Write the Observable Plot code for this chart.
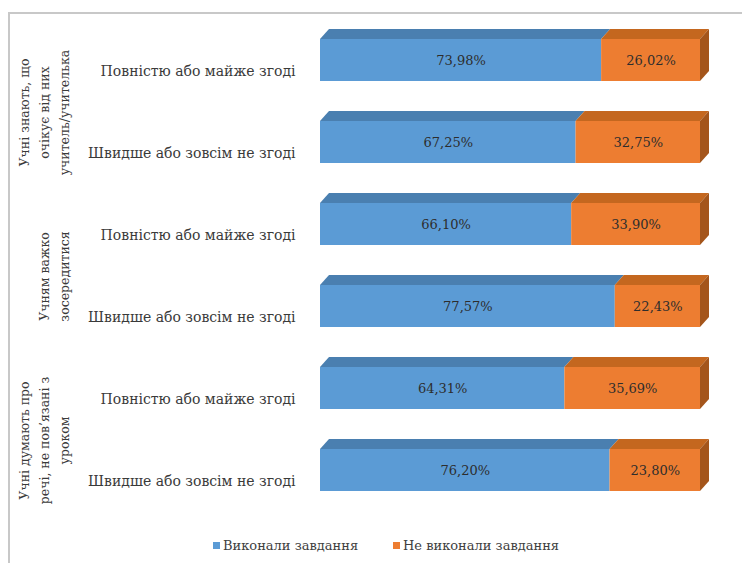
<!DOCTYPE html>
<html>
<head>
<meta charset="utf-8">
<script src="https://cdn.jsdelivr.net/npm/d3@7"></script>
<script src="https://cdn.jsdelivr.net/npm/@observablehq/plot@0.6"></script>
<style>
  body { margin: 0; background: #fff; }
  #wrap { position: relative; width: 742px; height: 563px; overflow: hidden; font-family: "DejaVu Serif", serif; }
  #frame { position: absolute; left: 8px; top: 12px; width: 800px; height: 600px; border-left: 2px solid #c8c8c8; border-top: 2px solid #c8c8c8; }
  #chart { position: absolute; left: 0; top: 0; }
  #legend { position: absolute; left: 0; top: 533px; width: 742px; height: 26px; font-size: 13px; color: #404040; }
  .item { position: absolute; top: 5px; display: flex; align-items: center; }
  .sw { width: 7px; height: 7px; margin-right: 3px; }
</style>
</head>
<body>
<div id="wrap">
  <div id="frame"></div>
  <div id="chart"></div>
  <div id="legend"></div>
</div>
<script>
// ---- data ----
const groups = [
  "Учні знають, що\nочікує від них\nучитель/учителька",
  "Учням важко\nзосередитися",
  "Учні думають про\nречі, не пов’язані з\nуроком"
];
const answers = ["Повністю або майже згоді", "Швидше або зовсім не згоді"];
const series = ["Виконали завдання", "Не виконали завдання"];
const done    = [73.98, 67.25, 66.10, 77.57, 64.31, 76.20];
const notDone = [26.02, 32.75, 33.90, 22.43, 35.69, 23.80];

const frontColors = ["#5b9bd5", "#ed7d31"];
const topColors   = ["#4a7fb0", "#c4671f"];
const sideColor   = "#a4551b";

// ---- derived table ----
const rows = done.map((v, i) => ({row: i, group: groups[Math.floor(i / 2)], answer: answers[i % 2]}));
const table = [];
rows.forEach((r, i) => {
  table.push({...r, series: series[0], value: done[i], x1: 0, x2: done[i]});
  table.push({...r, series: series[1], value: notDone[i], x1: done[i], x2: done[i] + notDone[i]});
});
const groupRows = groups.map((g, k) => ({row: 2 * k, label: g}));
const fmt = v => v.toFixed(2).replace(".", ",") + "%";
const ff = "DejaVu Serif";

const marks = [];
series.forEach((s, k) => {
  const data = table.filter(d => d.series === s);
  marks.push(Plot.rectX(data, {x1: "x1", x2: "x2", y: "row", fill: topColors[k], insetBottom: 42, ariaDescription: "top"}));
});
marks.push(Plot.rectX(table.filter(d => d.series === series[1]), {x1: "x2", x2: "x2", y: "row", fill: sideColor, insetTop: 10, insetRight: -9, ariaDescription: "side"}));
series.forEach((s, k) => {
  const data = table.filter(d => d.series === s);
  marks.push(Plot.rectX(data, {x1: "x1", x2: "x2", y: "row", fill: frontColors[k], insetTop: 10}));
});
marks.push(Plot.text(table, {x: d => (d.x1 + d.x2) / 2, y: "row", text: d => fmt(d.value), dy: 5, fill: "#2d2d2d", fontSize: 13, fontFamily: ff}));
marks.push(Plot.text(rows, {y: "row", text: "answer", frameAnchor: "left", textAnchor: "end", dx: -25, dy: 16, fill: "#3a3a3a", fontSize: 14, fontFamily: ff}));
marks.push(Plot.text(groupRows, {y: "row", text: "label", frameAnchor: "left", textAnchor: "middle", dx: -252, dy: 57, rotate: -90, lineAnchor: "bottom", lineHeight: 1.6, fill: "#3a3a3a", fontSize: 12.5, fontFamily: ff}));

const chart = Plot.plot({
  width: 742,
  height: 533,
  marginLeft: 320,
  marginRight: 42,
  marginTop: 0,
  marginBottom: 0,
  style: {background: "transparent", overflow: "visible", fontFamily: ff},
  x: {domain: [0, 100], axis: null},
  y: {domain: rows.map(r => r.row), range: [27, 492], paddingInner: 0.3705, paddingOuter: 0, axis: null},
  marks
});

// turn flat rects into the 3D faces
d3.select(chart).selectAll('g[aria-description="top"] rect').each(function() {
  const r = d3.select(this);
  const yb = +r.attr("y") + +r.attr("height");
  r.attr("transform", `translate(0,${yb}) skewX(-42) translate(0,${-yb})`);
});
d3.select(chart).selectAll('g[aria-description="side"] rect').each(function() {
  const r = d3.select(this);
  const xl = +r.attr("x");
  r.attr("transform", `translate(${xl},0) skewY(-48) translate(${-xl},0)`);
});
document.getElementById("chart").appendChild(chart);

// legend
const legend = document.getElementById("legend");
const lx = [213, 393];
series.forEach((s, k) => {
  const item = document.createElement("div");
  item.className = "item";
  item.style.left = lx[k] + "px";
  item.innerHTML = `<span class="sw" style="background:${frontColors[k]}"></span><span>${s}</span>`;
  legend.appendChild(item);
});
</script>
</body>
</html>
